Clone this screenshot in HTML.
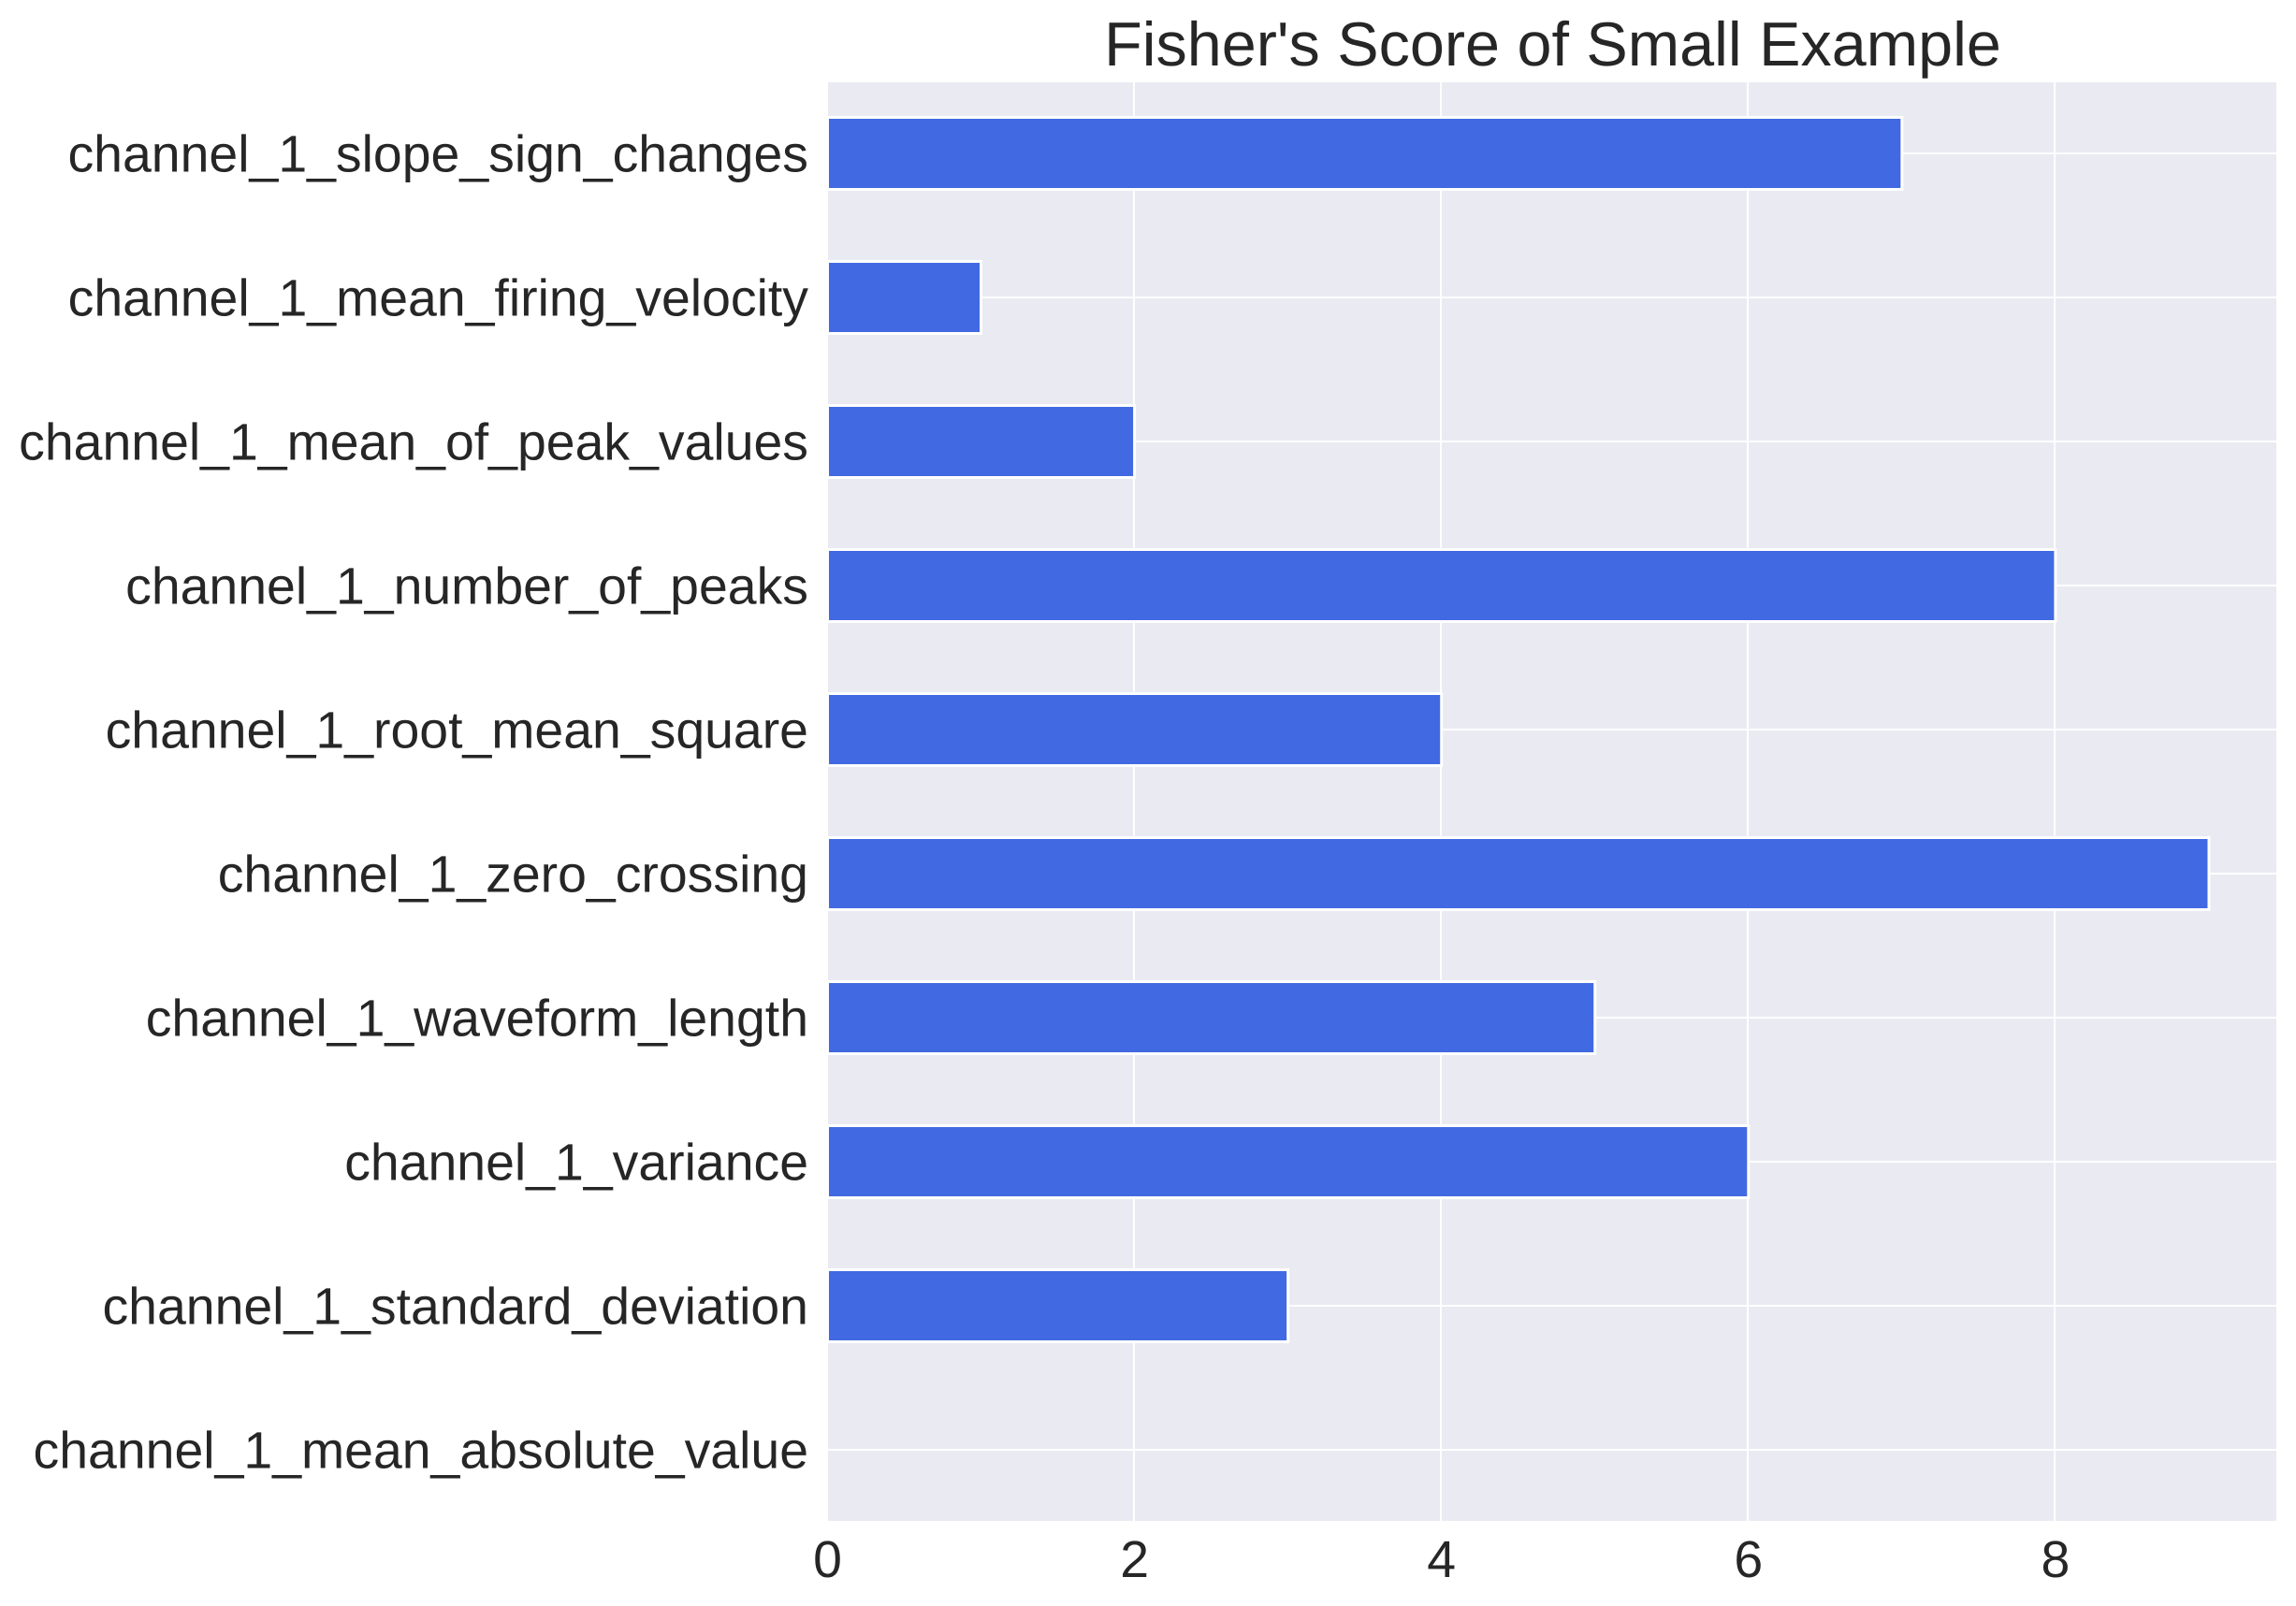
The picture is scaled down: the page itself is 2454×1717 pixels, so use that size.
<!DOCTYPE html>
<html lang="en">
<head>
<meta charset="utf-8">
<title>Fisher's Score of Small Example</title>
<style>
  html, body { margin: 0; padding: 0; background: #ffffff; }
  svg { display: block; }
  text { font-family: "Liberation Sans", Arial, sans-serif; fill: #262626; text-rendering: geometricPrecision; }
</style>
</head>
<body>
<svg id="chart" xmlns="http://www.w3.org/2000/svg" width="2454" height="1717" viewBox="0 0 2454 1717">
  <defs>
    <clipPath id="plot-clip"><rect x="885" y="88" width="1548" height="1538"></rect></clipPath>
  </defs>
  <rect x="0" y="0" width="2454" height="1717" fill="#ffffff"></rect>
  <rect x="885" y="88" width="1548" height="1538" fill="#eaeaf2"></rect>
  <g id="grid" clip-path="url(#plot-clip)"></g>
  <g id="bars" clip-path="url(#plot-clip)"></g>
  <g id="y-labels"></g>
  <g id="x-labels"></g>
  <text x="1659.5" y="70" font-size="66.5" text-anchor="middle">Fisher's Score of Small Example</text>
</svg>
<script>
const categories = [
  "channel_1_mean_absolute_value",
  "channel_1_standard_deviation",
  "channel_1_variance",
  "channel_1_waveform_length",
  "channel_1_zero_crossing",
  "channel_1_root_mean_square",
  "channel_1_number_of_peaks",
  "channel_1_mean_of_peak_values",
  "channel_1_mean_firing_velocity",
  "channel_1_slope_sign_changes"
];
const scores = [0, 3, 6, 5, 9, 4, 8, 2, 1, 7];
const xTicks = [0, 2, 4, 6, 8];

const SVG_NS = "http://www.w3.org/2000/svg";
function xScale(v) { return 884.5 + 164.05 * v; }
function yScale(i) { return 1550 - 154 * i; }

function make(tag, attrs, parent) {
  const el = document.createElementNS(SVG_NS, tag);
  for (const k in attrs) el.setAttribute(k, attrs[k]);
  parent.appendChild(el);
  return el;
}

const gridG = document.getElementById("grid");
const barsG = document.getElementById("bars");
const yLabelsG = document.getElementById("y-labels");
const xLabelsG = document.getElementById("x-labels");

xTicks.forEach(function (t) {
  if (t !== 0) {
    const gx = Math.round(xScale(t) - 0.5);
    const line = make("rect", { x: gx - 1, y: 88, width: 2, height: 1538, fill: "#ffffff" }, gridG);
    
    
  }
  const label = make("text", { x: xScale(t), y: 1686, "font-size": 55.4, "text-anchor": "middle" }, xLabelsG);
  label.textContent = String(t);
  
  
});

categories.forEach(function (name, i) {
  const cy = yScale(i);
  const line = make("rect", { x: 885, y: cy - 1, width: 1548, height: 2, fill: "#ffffff" }, gridG);
  
  

  const x0 = xScale(0);
  const bar = make("rect", {
    x: x0,
    y: cy - 38.5,
    width: xScale(scores[i]) - x0,
    height: 77,
    fill: "#4169e1",
    stroke: "#ffffff",
    "stroke-width": 3
  }, barsG);
  
  

  const label = make("text", { x: 864, y: cy + 19.5, "font-size": 55.4, "text-anchor": "end" }, yLabelsG);
  label.textContent = name;
  
  
});
</script>
</body>
</html>
